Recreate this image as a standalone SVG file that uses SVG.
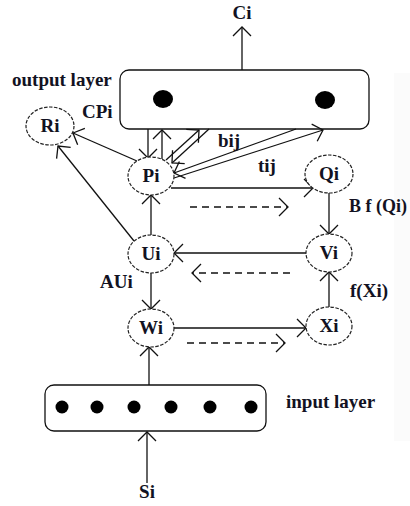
<svg xmlns="http://www.w3.org/2000/svg" width="410" height="506" viewBox="0 0 410 506">
<defs>
<marker id="ah" markerUnits="userSpaceOnUse" markerWidth="24" markerHeight="24" refX="0" refY="0" viewBox="-12 -12 24 24" orient="auto" overflow="visible">
<path d="M -9 -9 L 0 0 L -9 9" fill="none" stroke="#111" stroke-width="1.3"/>
</marker>
</defs>
<style>
text{font-family:"Liberation Serif","Times New Roman",serif;font-weight:bold;font-size:19px;fill:#121222}
.n ellipse{fill:#fff;stroke:#222;stroke-width:1.2;stroke-dasharray:3.5 1.5}
.n text{text-anchor:middle}
.c line{stroke:#111;stroke-width:1.3;marker-end:url(#ah)}
.c line.d{stroke-dasharray:7 5}
.layer{fill:#fff;stroke:#111;stroke-width:1.3}
</style>
<rect width="410" height="506" fill="#fff"/>
<rect x="394" y="73" width="16" height="368" fill="#fbfbfb"/>
<g id="output-layer">
<rect class="layer" x="120" y="70" width="249" height="59" rx="9"/>
<ellipse cx="163" cy="99" rx="10" ry="9" fill="#000"/>
<ellipse cx="325" cy="100" rx="10" ry="9" fill="#000"/>
</g>
<g id="input-layer">
<rect class="layer" x="45" y="385" width="221" height="46" rx="9"/>
<circle cx="62" cy="407" r="6.5" fill="#000"/>
<circle cx="97" cy="407" r="6.5" fill="#000"/>
<circle cx="134" cy="407" r="6.5" fill="#000"/>
<circle cx="171" cy="407" r="6.5" fill="#000"/>
<circle cx="210" cy="407" r="6.5" fill="#000"/>
<circle cx="251" cy="407" r="6.5" fill="#000"/>
</g>
<g class="c" id="connectors">
<line x1="242" y1="70" x2="242" y2="27"/>
<line x1="148" y1="129" x2="148" y2="158"/>
<line x1="162" y1="159" x2="162" y2="130"/>
<line x1="166" y1="160" x2="199" y2="130"/>
<line x1="209" y1="129" x2="172" y2="163"/>
<line x1="296" y1="129" x2="174" y2="173"/>
<line x1="174" y1="178" x2="323" y2="130"/>
<line x1="137" y1="161" x2="73" y2="133"/>
<line x1="134" y1="241" x2="58" y2="146"/>
<line x1="171" y1="188" x2="313" y2="188"/>
<line class="d" x1="190" y1="207" x2="288" y2="207"/>
<line x1="329" y1="193" x2="329" y2="234"/>
<line x1="306" y1="253" x2="174" y2="253"/>
<line class="d" x1="290" y1="273" x2="192" y2="273"/>
<line x1="329" y1="307" x2="329" y2="272"/>
<line x1="151" y1="273" x2="151" y2="309"/>
<line x1="151" y1="235" x2="151" y2="195"/>
<line x1="174" y1="328" x2="306" y2="328"/>
<line class="d" x1="187" y1="343" x2="285" y2="343"/>
<line x1="149" y1="385" x2="149" y2="347"/>
<line x1="147" y1="483" x2="147" y2="432"/>
</g>
<g class="n" id="Ri"><ellipse cx="50" cy="126" rx="24" ry="19"/><text x="50" y="132">Ri</text></g>
<g class="n" id="Pi"><ellipse cx="151" cy="176" rx="23" ry="19"/><text x="151" y="182">Pi</text></g>
<g class="n" id="Qi"><ellipse cx="329" cy="174" rx="24" ry="19"/><text x="329" y="180">Qi</text></g>
<g class="n" id="Ui"><ellipse cx="151" cy="254" rx="23" ry="19"/><text x="151" y="260">Ui</text></g>
<g class="n" id="Vi"><ellipse cx="329" cy="253" rx="23" ry="19"/><text x="329" y="259">Vi</text></g>
<g class="n" id="Wi"><ellipse cx="151" cy="328" rx="23" ry="19"/><text x="151" y="334">Wi</text></g>
<g class="n" id="Xi"><ellipse cx="329" cy="326" rx="23" ry="19"/><text x="329" y="332">Xi</text></g>
<g id="labels">
<text x="242" y="19" text-anchor="middle">Ci</text>
<text x="12" y="86">output layer</text>
<text x="82" y="118">CPi</text>
<text x="218" y="147">bij</text>
<text x="258" y="172">tij</text>
<text x="349" y="212" style="font-size:18px">B f (Qi)</text>
<text x="100" y="288">AUi</text>
<text x="350" y="297">f(Xi)</text>
<text x="286" y="408">input layer</text>
<text x="147" y="498" text-anchor="middle">Si</text>
</g>
</svg>
